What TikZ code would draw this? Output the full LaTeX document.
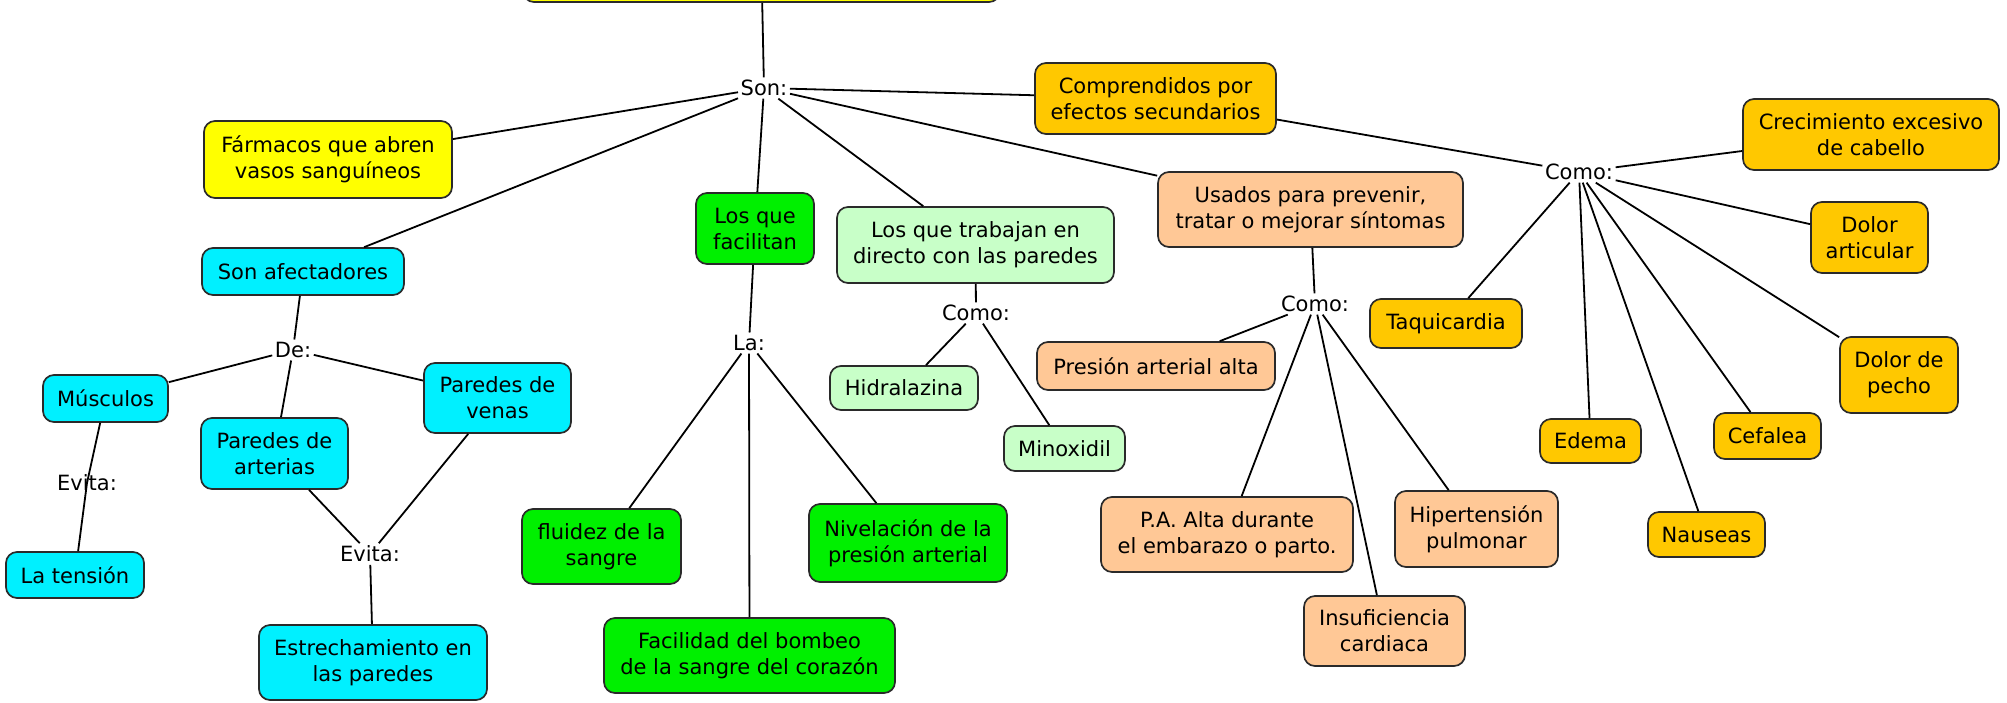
\documentclass[tikz,border=0pt]{standalone}
\usepackage{fontspec}
\setmainfont{DejaVu Sans}
\definecolor{cyel}{HTML}{FFFF00}
\definecolor{ccyan}{HTML}{00F0FF}
\definecolor{cgreen}{HTML}{00F000}
\definecolor{clgreen}{HTML}{C8FFC8}
\definecolor{cpeach}{HTML}{FFC896}
\definecolor{cgold}{HTML}{FFC800}
\definecolor{cborder}{HTML}{2A2A2A}
\begin{document}
\begin{tikzpicture}[x=1pt,y=-1pt,
  box/.style={draw=cborder, line width=1.7pt, rounded corners=11pt, align=center,
    inner sep=0pt, font=\fontsize{21}{26}\selectfont, text=black},
  lab/.style={font=\fontsize{21}{26}\selectfont, inner sep=2.5pt, text=black},
  conn/.style={line width=1.8pt, draw=black}]
\useasboundingbox (0,0) rectangle (2007,702);
\clip (0,0) rectangle (2007,702);

% top box (cut off)
\node[box, fill=cyel, minimum width=477pt, minimum height=64pt] (top) at (761.5,-30) {};

% yellow
\node[box, fill=cyel, minimum width=248pt, minimum height=77pt] (farm) at (328,159.5) {Fármacos que abren\\vasos sanguíneos};

% cyan
\node[box, fill=ccyan, minimum width=202pt, minimum height=47pt] (afect) at (303,271.5) {Son afectadores};
\node[box, fill=ccyan, minimum width=125pt, minimum height=47pt] (musc) at (105.5,398.5) {Músculos};
\node[box, fill=ccyan, minimum width=147pt, minimum height=71pt] (part) at (274.5,453.5) {Paredes de\\arterias};
\node[box, fill=ccyan, minimum width=147pt, minimum height=70pt] (pven) at (497.5,398) {Paredes de\\venas};
\node[box, fill=ccyan, minimum width=138pt, minimum height=46pt] (tens) at (75,575) {La tensión};
\node[box, fill=ccyan, minimum width=228pt, minimum height=75pt] (estr) at (373,662.5) {Estrechamiento en\\las paredes};

% green
\node[box, fill=cgreen, minimum width=118pt, minimum height=71pt] (facil) at (755,228.5) {Los que\\facilitan};
\node[box, fill=cgreen, minimum width=159pt, minimum height=75pt] (flui) at (601.5,546.5) {fluidez de la\\sangre};
\node[box, fill=cgreen, minimum width=291pt, minimum height=75pt] (faci) at (749.5,655.5) {Facilidad del bombeo\\de la sangre del corazón};
\node[box, fill=cgreen, minimum width=198pt, minimum height=78pt] (nive) at (908,543) {Nivelación de la\\presión arterial};

% light green
\node[box, fill=clgreen, minimum width=277pt, minimum height=76pt] (trab) at (975.5,245) {Los que trabajan en\\directo con las paredes};
\node[box, fill=clgreen, minimum width=148pt, minimum height=44pt] (hidr) at (904,388) {Hidralazina};
\node[box, fill=clgreen, minimum width=121pt, minimum height=45pt] (mino) at (1064.5,448.5) {Minoxidil};

% peach
\node[box, fill=cpeach, minimum width=305pt, minimum height=75pt] (usad) at (1310.5,209.5) {Usados para prevenir,\\tratar o mejorar síntomas};
\node[box, fill=cpeach, minimum width=238pt, minimum height=48pt] (pres) at (1156,366) {Presión arterial alta};
\node[box, fill=cpeach, minimum width=252pt, minimum height=75pt] (paal) at (1227,534.5) {P.A. Alta durante\\el embarazo o parto.};
\node[box, fill=cpeach, minimum width=161pt, minimum height=70pt] (insu) at (1384.5,631) {Insuficiencia\\cardiaca};
\node[box, fill=cpeach, minimum width=163pt, minimum height=76pt] (hipe) at (1476.5,529) {Hipertensión\\pulmonar};

% gold
\node[box, fill=cgold, minimum width=241pt, minimum height=71pt] (comp) at (1155.5,98.5) {Comprendidos por\\efectos secundarios};
\node[box, fill=cgold, minimum width=256pt, minimum height=71pt] (crec) at (1871,134.5) {Crecimiento excesivo\\de cabello};
\node[box, fill=cgold, minimum width=117pt, minimum height=71pt] (dart) at (1869.5,237.5) {Dolor\\articular};
\node[box, fill=cgold, minimum width=152pt, minimum height=49pt] (taqu) at (1446,323.5) {Taquicardia};
\node[box, fill=cgold, minimum width=118pt, minimum height=76pt] (dpec) at (1899,375) {Dolor de\\pecho};
\node[box, fill=cgold, minimum width=101pt, minimum height=44pt] (edem) at (1590.5,441) {Edema};
\node[box, fill=cgold, minimum width=107pt, minimum height=46pt] (cefa) at (1767.5,436) {Cefalea};
\node[box, fill=cgold, minimum width=117pt, minimum height=45pt] (naus) at (1706.5,534.5) {Nauseas};

% linking labels
\node[lab] (son) at (764,88) {Son:};
\node[lab] (de) at (293,350) {De:};
\node[lab] (evl) at (87,483) {Evita:};
\node[lab] (evm) at (370,554) {Evita:};
\node[lab] (la) at (749,343) {La:};
\node[lab] (comot) at (976,313) {Como:};
\node[lab] (comou) at (1315,304) {Como:};
\node[lab] (comor) at (1579,172) {Como:};

% connectors
\draw[conn] (top) -- (son);
\draw[conn] (son) -- (farm);
\draw[conn] (son) -- (afect);
\draw[conn] (son) -- (facil);
\draw[conn] (son) -- (trab);
\draw[conn] (son) -- (usad);
\draw[conn] (son) -- (comp);

\draw[conn] (afect) -- (de);
\draw[conn] (de) -- (musc);
\draw[conn] (de) -- (part);
\draw[conn] (de) -- (pven);
\draw[conn] (musc) -- (evl.center) -- (tens);
\draw[conn] (part) -- (evm);
\draw[conn] (pven) -- (evm);
\draw[conn] (evm) -- (estr);

\draw[conn] (facil) -- (la);
\draw[conn] (la) -- (flui);
\draw[conn] (la) -- (faci);
\draw[conn] (la) -- (nive);

\draw[conn] (trab) -- (comot);
\draw[conn] (comot) -- (hidr);
\draw[conn] (comot) -- (mino);

\draw[conn] (usad) -- (comou);
\draw[conn] (comou) -- (pres);
\draw[conn] (comou) -- (paal);
\draw[conn] (comou) -- (insu);
\draw[conn] (comou) -- (hipe);

\draw[conn] (comp) -- (comor);
\draw[conn] (comor) -- (crec);
\draw[conn] (comor) -- (dart);
\draw[conn] (comor) -- (taqu);
\draw[conn] (comor) -- (dpec);
\draw[conn] (comor) -- (edem);
\draw[conn] (comor) -- (cefa);
\draw[conn] (comor) -- (naus);
\end{tikzpicture}
\end{document}
